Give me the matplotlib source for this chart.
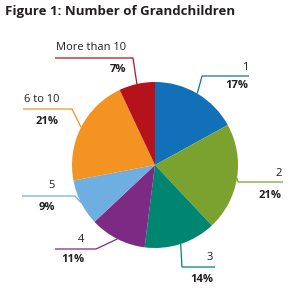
import numpy as np
import matplotlib
matplotlib.use("Agg")
import matplotlib.pyplot as plt

# Data
labels = ["1", "2", "3", "4", "5", "6 to 10", "More than 10"]
shares = [17, 21, 14, 11, 9, 21, 7]
colors = ["#1170b8", "#7ba22f", "#008570", "#7c2a83", "#6eaee0", "#f39422", "#b5121b"]

W, H = 296, 292
plt.rcParams['font.family'] = ['Open Sans', 'DejaVu Sans']

fig = plt.figure(figsize=(W / 100, H / 100), dpi=100)
ax = fig.add_axes([0, 0, 1, 1])

# pie centre / radius in pixels (y measured from top)
cx, cy, r = 155, 165, 83

def py(y):
    return H - y

wedges, _ = ax.pie(shares, colors=colors, startangle=90, counterclock=False,
                   center=(cx, py(cy)), radius=r, frame=True,
                   wedgeprops=dict(linewidth=0))

# leader layout: elbow point, far end of the underline, label y, pct y, text right edge
layout = [
    ((202, 76), 249, 67, 86, 248),
    ((238, 182), 283, 173, 195, 282),
    ((182, 267), 215, 258, 279, 213),
    ((96, 249), 55, 239, 260, 84),
    ((75, 196), 22, 185, 207, 55),
    ((72, 109), 23, 99, 121, 59),
    ((133, 58), 55, 48, 69, 126),
]

for w, lab, pct, col, (elb, xend, ly, pyy, xr) in zip(wedges, labels, shares, colors, layout):
    mid = np.deg2rad((w.theta1 + w.theta2) / 2)
    ex, ey = cx + r * np.cos(mid), py(cy) + r * np.sin(mid)
    ax.plot([ex, elb[0], xend], [ey, py(elb[1]), py(elb[1])], color=col, lw=0.9,
            solid_capstyle='butt')
    ax.text(xr, py(ly), lab, ha='right', va='center', fontsize=8, color='#231f20')
    ax.text(xr, py(pyy), f"{pct}%", ha='right', va='center', fontsize=8,
            fontweight='bold', color='#231f20')

ax.text(5, py(12), "Figure 1: Number of Grandchildren", ha='left', va='center',
        fontsize=9.5, fontweight='bold', color='#231f20')

ax.set_xlim(0, W)
ax.set_ylim(0, H)
ax.set_aspect('equal')
ax.axis('off')

fig.savefig("out.png", dpi=100)
